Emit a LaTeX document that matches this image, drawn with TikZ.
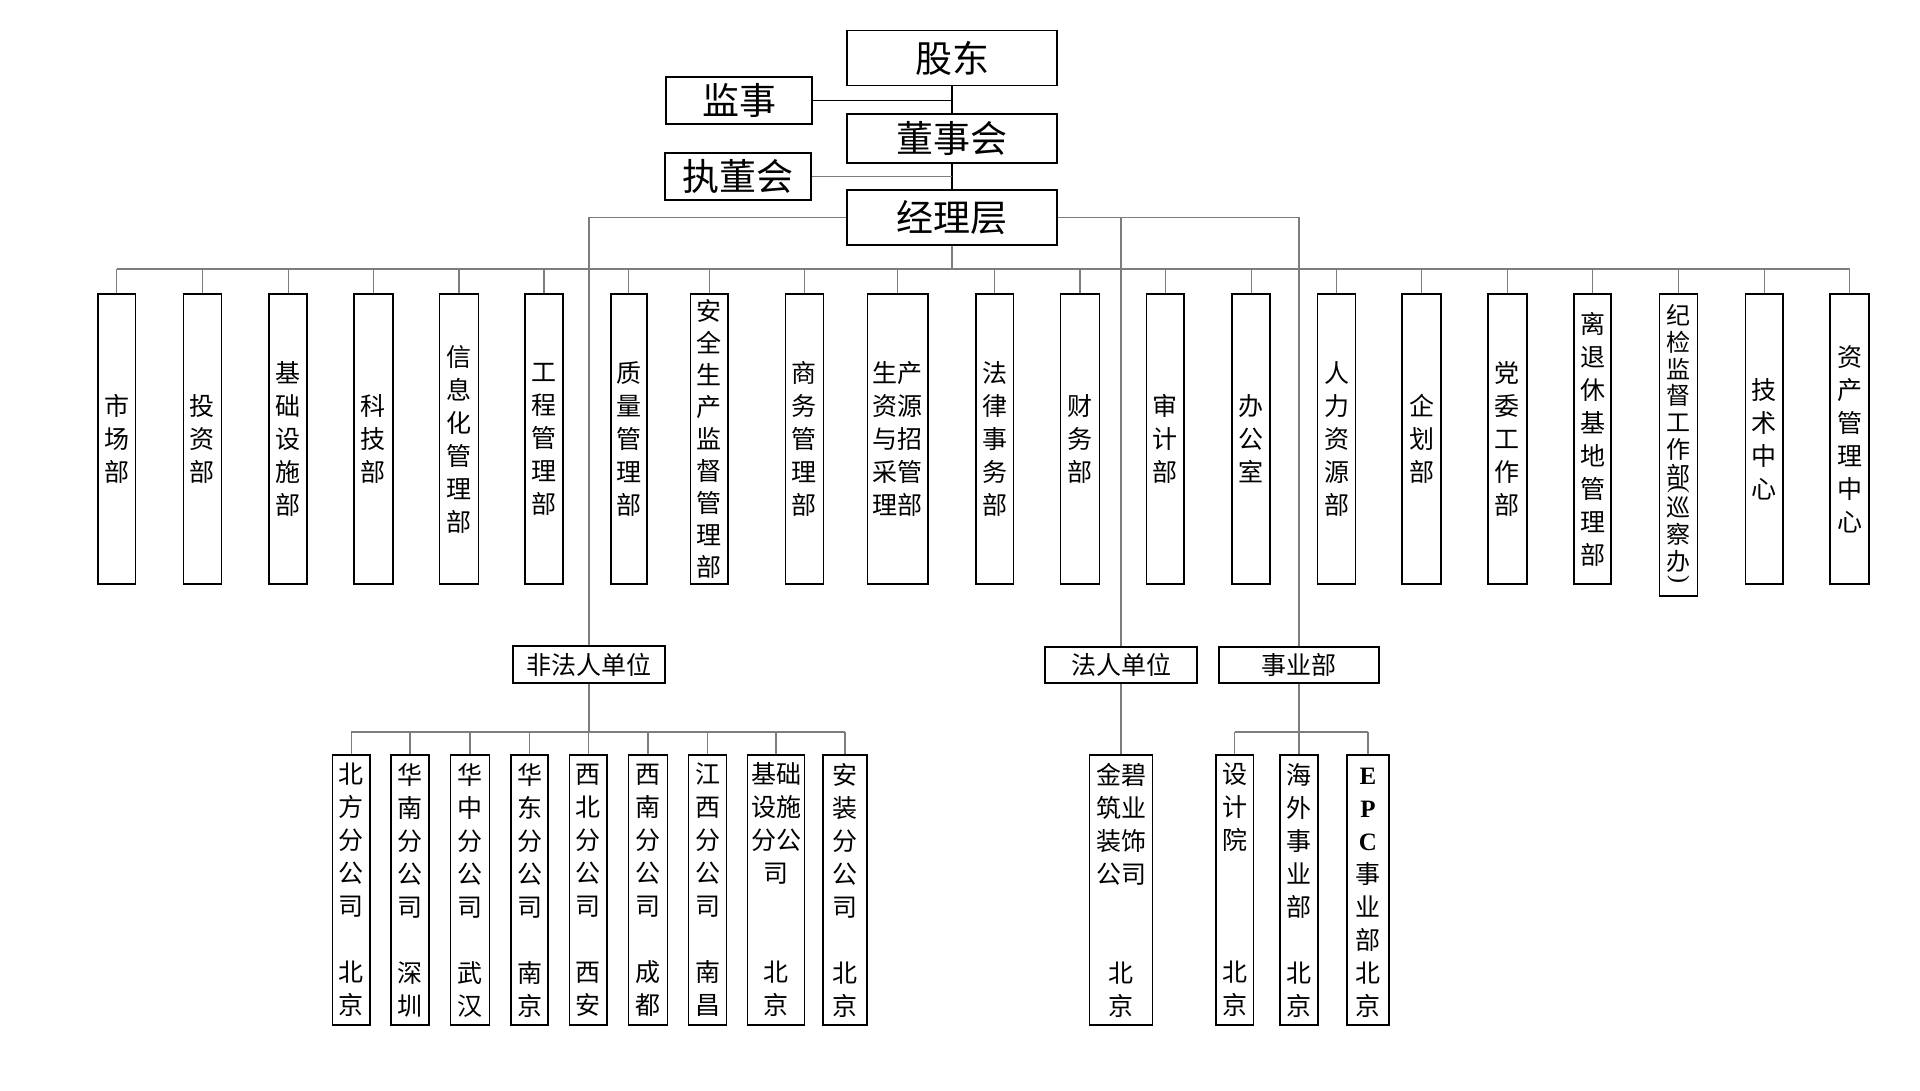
\documentclass[tikz,border=0pt]{standalone}
\usepackage{fontspec}
\usepackage{graphicx}
\newfontfamily\cjk{Noto Sans CJK SC}
\newfontfamily\tnr{Liberation Serif}
\definecolor{lineg}{RGB}{125,125,125}
\newcommand{\vparen}[1]{\rotatebox[origin=c]{-90}{\tnr #1}}
\tikzset{
  box/.style={draw=black, line width=1.6pt, fill=white, inner sep=0pt, align=center},
  topbox/.style={box, minimum width=210pt, font=\cjk\fontsize{37}{40}\selectfont},
  sidebox/.style={box, minimum width=146pt, minimum height=47pt, font=\cjk\fontsize{37}{40}\selectfont},
  midbox/.style={box, minimum height=36pt, font=\cjk\fontsize{25}{30}\selectfont},
  dept/.style={box, minimum height=290pt, font=\cjk\fontsize{25}{33}\selectfont},
  branch/.style={box, minimum height=270pt, font=\cjk\fontsize{25}{33}\selectfont},
  conn/.style={draw=lineg, line width=1.2pt},
  strongconn/.style={draw=black, line width=1.4pt},
}
\begin{document}
\begin{tikzpicture}[x=1pt,y=-1pt]
\useasboundingbox (0,0) rectangle (1920,1090);
\fill[white] (0,0) rectangle (1920,1090);

% top level
\node[topbox, minimum height=55pt] (gd) at (952,58) {股东};
\node[topbox, minimum height=49pt] (dsh) at (952,138.5) {董事会};
\node[topbox, minimum height=55pt] (jlc) at (952,217.5) {经理层};
\node[sidebox] (js) at (739,100.5) {监事};
\node[sidebox] (zdh) at (738,176.5) {执董会};

% departments
\node[dept, minimum width=37.5pt] (d1) at (116.6,439) {市\\场\\部};
\node[dept, minimum width=38pt] (d2) at (202.3,439) {投\\资\\部};
\node[dept, minimum width=38pt] (d3) at (288.2,439) {基\\础\\设\\施\\部};
\node[dept, minimum width=39pt] (d4) at (373.2,439) {科\\技\\部};
\node[dept, minimum width=39pt] (d5) at (459,439) {信\\息\\化\\管\\理\\部};
\node[dept, minimum width=37.5pt] (d6) at (544,439) {工\\程\\管\\理\\部};
\node[dept, minimum width=36pt] (d7) at (628.8,439) {质\\量\\管\\理\\部};
\node[dept, minimum width=37.5pt, font=\cjk\fontsize{25}{32}\selectfont] (d8) at (709.2,439) {安\\全\\生\\产\\监\\督\\管\\理\\部};
\node[dept, minimum width=38pt] (d9) at (804.3,439) {商\\务\\管\\理\\部};
\node[dept, minimum width=60.5pt] (d10) at (897.7,439) {生产\\资源\\与招\\采管\\理部};
\node[dept, minimum width=37.5pt] (d11) at (994.8,439) {法\\律\\事\\务\\部};
\node[dept, minimum width=39pt] (d12) at (1079.9,439) {财\\务\\部};
\node[dept, minimum width=37.5pt] (d13) at (1165.2,439) {审\\计\\部};
\node[dept, minimum width=38pt] (d14) at (1251.2,439) {办\\公\\室};
\node[dept, minimum width=38pt] (d15) at (1336.5,439) {人\\力\\资\\源\\部};
\node[dept, minimum width=39pt] (d16) at (1421.5,439) {企\\划\\部};
\node[dept, minimum width=39pt] (d17) at (1507.3,439) {党\\委\\工\\作\\部};
\node[dept, minimum width=37.5pt] (d18) at (1592.5,439) {离\\退\\休\\基\\地\\管\\理\\部};
\node[dept, minimum width=38pt, minimum height=302pt, font=\cjk\fontsize{24}{26.7}\selectfont] (d19) at (1678.4,445)
  {纪\\检\\监\\督\\工\\作\\部\\[-16.7pt]\vparen{(}\\[-4.7pt]巡\\察\\办\\[-11.7pt]\vparen{)}};
\node[dept, minimum width=37.5pt] (d20) at (1764.2,439) {技\\术\\中\\心};
\node[dept, minimum width=39pt] (d21) at (1849.6,439) {资\\产\\管\\理\\中\\心};

% second level
\node[midbox, minimum width=152pt, minimum height=37pt] (ffr) at (589,664.5) {非法人单位};
\node[midbox, minimum width=152pt] (fr) at (1121,665) {法人单位};
\node[midbox, minimum width=160pt] (syb) at (1299,665) {事业部};

% branches
\node[branch, minimum width=37.5pt] (b1) at (351.4,890) {北\\方\\分\\公\\司\\[33pt]北\\京};
\node[branch, minimum width=37.5pt] (b2) at (410,890) {华\\南\\分\\公\\司\\[33pt]深\\圳};
\node[branch, minimum width=39pt] (b3) at (470,890) {华\\中\\分\\公\\司\\[33pt]武\\汉};
\node[branch, minimum width=37.5pt] (b4) at (529.5,890) {华\\东\\分\\公\\司\\[33pt]南\\京};
\node[branch, minimum width=37.5pt] (b5) at (588.3,890) {西\\北\\分\\公\\司\\[33pt]西\\安};
\node[branch, minimum width=39pt] (b6) at (648,890) {西\\南\\分\\公\\司\\[33pt]成\\都};
\node[branch, minimum width=38pt] (b7) at (707.5,890) {江\\西\\分\\公\\司\\[33pt]南\\昌};
\node[branch, minimum width=57pt] (b8) at (776,890) {基础\\设施\\分公\\司\\[66pt]北\\京};
\node[branch, minimum width=44pt] (b9) at (845,890) {安\\装\\分\\公\\司\\[33pt]北\\京};

\node[branch, minimum width=63pt] (jb) at (1121,890) {金碧\\筑业\\装饰\\公司\\[66pt]北\\京};
\node[branch, minimum width=37.5pt] (sj) at (1234.7,890) {设\\计\\院\\[99pt]北\\京};
\node[branch, minimum width=38.5pt] (hw) at (1299,890) {海\\外\\事\\业\\部\\[33pt]北\\京};
\node[branch, minimum width=42pt] (epc) at (1368,890) {\vphantom{京}{\tnr\bfseries E}\\{\tnr\bfseries P}\\{\tnr\bfseries C}\\事\\业\\部\\北\\京};

% connectors: top
\draw[strongconn] (gd.south) -- (dsh.north);
\draw[strongconn] (dsh.south) -- (jlc.north);
\draw[strongconn] (js.east) -- (js.east -| gd.south);
\draw[conn] (zdh.east) -- (zdh.east -| dsh.south);

% department bus
\coordinate (bus1) at (952,269);
\draw[conn] (jlc.south) -- (bus1);
\draw[conn] (d1.north |- bus1) -- (d21.north |- bus1);
\foreach \i in {1,...,21} \draw[conn] (d\i.north) -- (d\i.north |- bus1);

% to second level
\draw[conn] (jlc.west) -| (ffr.north);
\draw[conn] (jlc.east) -| (fr.north);
\draw[conn] (jlc.east) -| (syb.north);

% non-legal units
\coordinate (bus2) at (589,732);
\draw[conn] (ffr.south) -- (bus2);
\draw[conn] (b1.north |- bus2) -- (b9.north |- bus2);
\foreach \i in {1,...,9} \draw[conn] (b\i.north) -- (b\i.north |- bus2);

% legal unit
\draw[conn] (fr.south) -- (jb.north);

% business divisions
\coordinate (bus3) at (1299,732);
\draw[conn] (syb.south) -- (bus3);
\draw[conn] (sj.north |- bus3) -- (epc.north |- bus3);
\foreach \n in {sj,hw,epc} \draw[conn] (\n.north) -- (\n.north |- bus3);
\end{tikzpicture}
\end{document}
